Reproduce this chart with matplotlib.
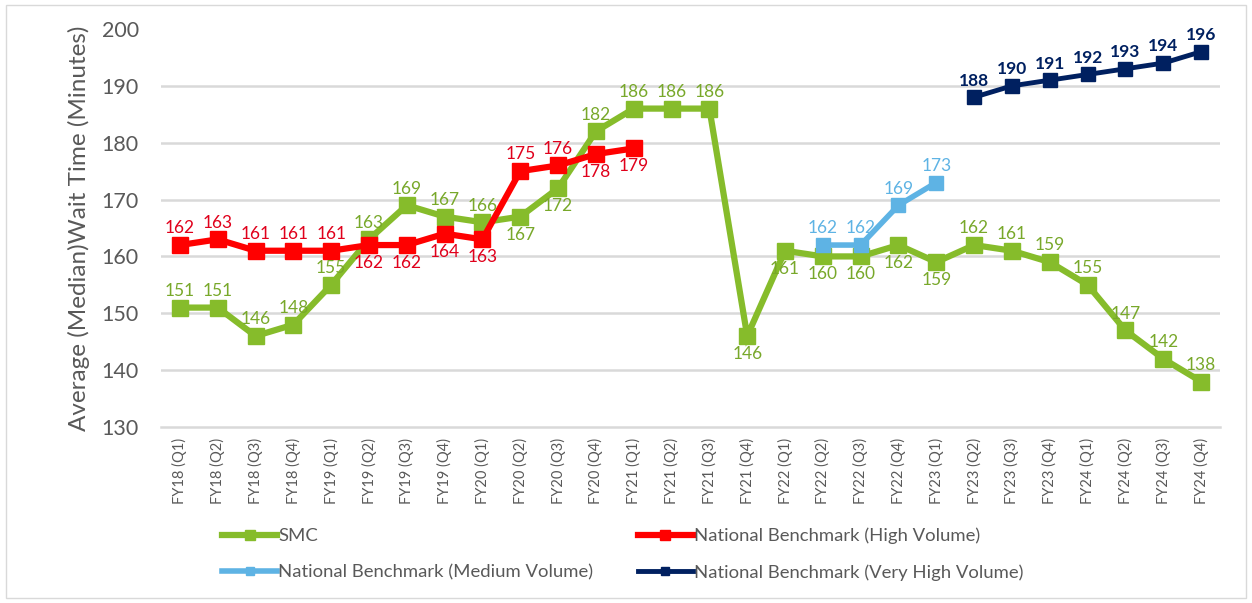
import matplotlib
matplotlib.use('Agg')
import matplotlib.pyplot as plt
from matplotlib.patches import Rectangle

# ── data ────────────────────────────────────────────────────────────────── #
QUARTERS = [f'FY{y} (Q{q})' for y in range(18, 25) for q in range(1, 5)]

smc = [151, 151, 146, 148, 155, 163, 169, 167, 166, 167, 172, 182, 186, 186,
       186, 146, 161, 160, 160, 162, 159, 162, 161, 159, 155, 147, 142, 138]
smc_pos = ['a', 'a', 'a', 'a', 'a', 'a', 'a', 'a', 'a', 'b', 'b', 'a', 'a', 'a',
           'a', 'b', 'b', 'b', 'b', 'b', 'b', 'a', 'a', 'a', 'a', 'a', 'a', 'a']

high_start = 0
high = [162, 163, 161, 161, 161, 162, 162, 164, 163, 175, 176, 178, 179]
high_pos = ['a', 'a', 'a', 'a', 'a', 'b', 'b', 'b', 'b', 'a', 'a', 'b', 'b']

med_start = 17
medium = [162, 162, 169, 173]

vhigh_start = 21
very_high = [188, 190, 191, 192, 193, 194, 196]

GREEN = '#86BC2B'
GREEN_TXT = '#78A82A'
RED = '#FF0000'
RED_TXT = '#E0001B'
LBLUE = '#5EB3E4'
NAVY = '#002060'
GRAY = '#595959'

plt.rcParams['font.family'] = ['Lato', 'DejaVu Sans']

fig = plt.figure(figsize=(12.52, 6.03), dpi=100)
ax = fig.add_axes([0.1286, 0.2919, 0.8458, 0.66])
fig.add_artist(Rectangle((0.005, 0.008), 0.99, 0.984, transform=fig.transFigure,
                         fill=False, edgecolor='#D9D9D9', linewidth=1))


def draw(start, vals, color, txtcolor, pos, label, lw, ms, bold=False):
    xs = list(range(start, start + len(vals)))
    ax.plot(xs, vals, color=color, lw=lw, marker='s', ms=ms,
            solid_joinstyle='miter', label=label, zorder=3)
    for x, v, p in zip(xs, vals, pos):
        off = 12 if p == 'a' else -13
        ax.annotate(str(v), (x, v), xytext=(0, off), textcoords='offset points',
                    ha='center', va='center', fontsize=12.5, color=txtcolor,
                    fontweight='bold' if bold else 'normal', zorder=4)


draw(0, smc, GREEN, GREEN_TXT, smc_pos, 'SMC', 4.5, 11)
draw(high_start, high, RED, RED_TXT, high_pos,
     'National Benchmark (High Volume)', 4.5, 11)
draw(med_start, medium, LBLUE, LBLUE, ['a'] * len(medium),
     'National Benchmark (Medium Volume)', 4, 10)
draw(vhigh_start, very_high, NAVY, NAVY, ['a'] * len(very_high),
     'National Benchmark (Very High Volume)', 3.5, 10, bold=True)

ax.set_xlim(-0.5, len(QUARTERS) - 0.5)
ax.set_ylim(130, 200)
ax.set_yticks(range(130, 201, 10))
ax.set_xticks(range(len(QUARTERS)))
ax.set_xticklabels(QUARTERS, rotation=90, fontsize=10.5, color=GRAY)
ax.tick_params(axis='y', labelsize=15.5, labelcolor=GRAY, length=0, pad=16)
ax.tick_params(axis='x', length=0, pad=8)
ax.grid(axis='y', color='#D9D9D9', lw=1.8, zorder=0)
ax.get_ygridlines()[-1].set_visible(False)
ax.get_ygridlines()[0].set_visible(False)
for s in ['top', 'right', 'left']:
    ax.spines[s].set_visible(False)
ax.spines['bottom'].set_color('#D9D9D9')
ax.spines['bottom'].set_linewidth(1.8)
ax.set_ylabel('Average (Median)Wait Time (Minutes)', fontsize=17.5, color=GRAY,
              labelpad=8)

h, l = ax.get_legend_handles_labels()
order = [0, 2, 1, 3]
leg = fig.legend([h[i] for i in order], [l[i] for i in order], ncol=2,
                 loc='center left', bbox_to_anchor=(0.164, 0.081),
                 frameon=False, fontsize=13.3, handlelength=3.0,
                 handletextpad=0.05, columnspacing=2.4, labelspacing=1.1,
                 markerscale=0.6, labelcolor=GRAY)

fig.savefig('out.png', dpi=100)
